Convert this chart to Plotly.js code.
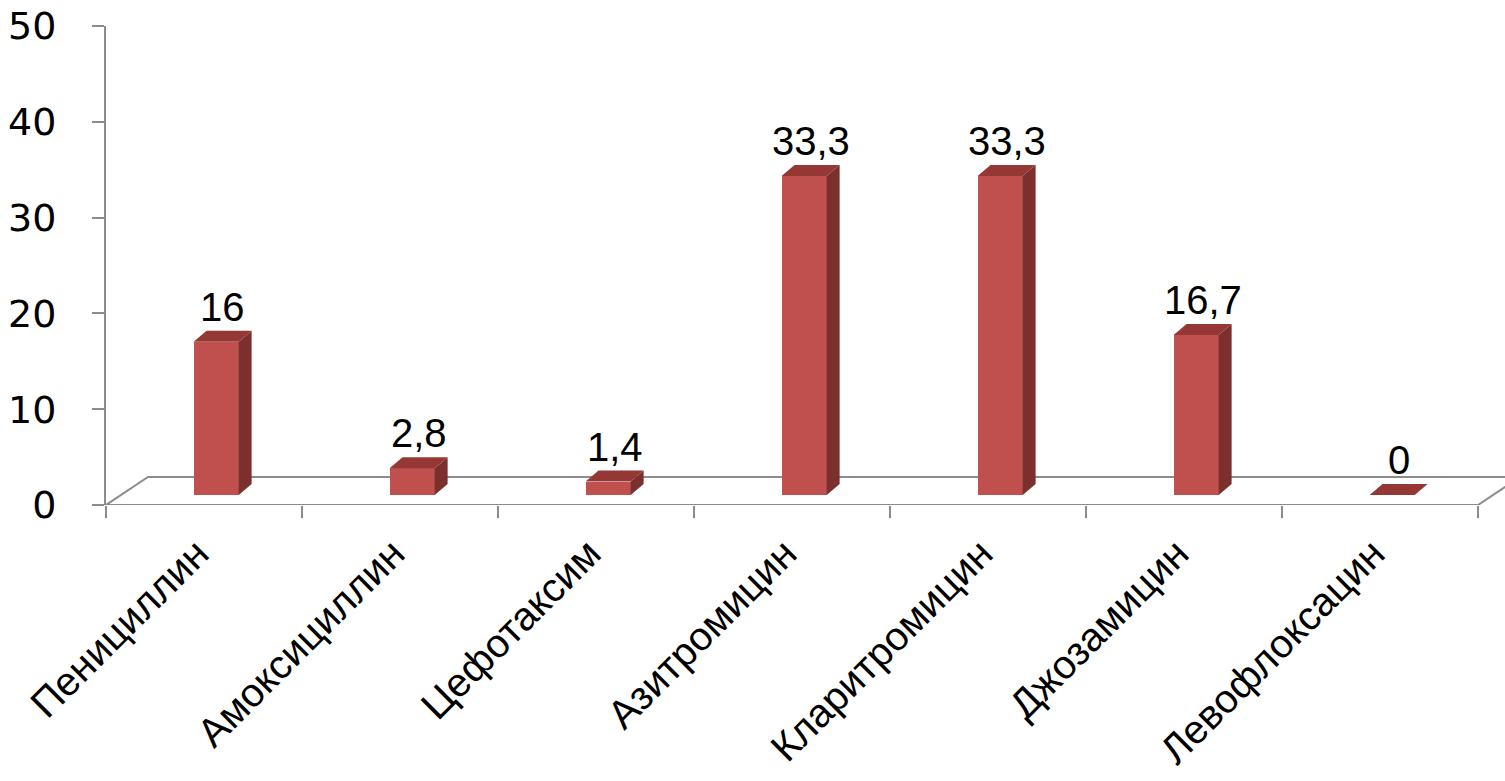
<!DOCTYPE html>
<html>
<head>
<meta charset="utf-8">
<script src="https://cdn.plot.ly/plotly-3.0.1.min.js"></script>
<style>
  html, body { margin: 0; padding: 0; background: #ffffff; }
  #chart { width: 1505px; height: 781px; }
</style>
</head>
<body>
<div id="chart"></div>
<script>
// Доля резистентных штаммов к антибиотикам, %
const categories = ['Пенициллин', 'Амоксициллин', 'Цефотаксим', 'Азитромицин',
                    'Кларитромицин', 'Джозамицин', 'Левофлоксацин'];
const values = [16, 2.8, 1.4, 33.3, 33.3, 16.7, 0];
const yTicks = [0, 10, 20, 30, 40, 50];

// Pseudo-3D geometry (axis units)
const floorDX = 0.214, floorDY = 2.92;   // depth of the floor plate
const planeDX = 0.062, planeDY = 1.04;   // offset of the bar front plane
const barW = 0.23;                       // bar width
const barDX = 0.066, barDY = 1.15;       // bar depth

const frontColor = '#C0504D', topColor = '#953735', sideColor = '#7B302E';
const gridGray = '#8C8C8C';

const centers = categories.map((_, i) => i + 0.5 + planeDX);

const bars = {
  type: 'bar',
  x: centers,
  y: values,
  base: values.map(() => planeDY),
  width: barW,
  marker: { color: frontColor, line: { width: 0 } },
  hoverinfo: 'skip',
  showlegend: false
};

const shapes = [];
// floor plate
const n = categories.length;
shapes.push({
  type: 'path', xref: 'x', yref: 'y', layer: 'below',
  path: `M 0 0 L ${floorDX} ${floorDY} L ${n + floorDX} ${floorDY} L ${n} 0 Z`,
  fillcolor: '#ffffff', line: { color: gridGray, width: 2 }
});

values.forEach((v, i) => {
  const xl = centers[i] - barW / 2, xr = centers[i] + barW / 2;
  const yb = planeDY, yt = planeDY + v;
  // side face
  if (v > 0) {
    shapes.push({
      type: 'path', xref: 'x', yref: 'y', layer: 'above',
      path: `M ${xr} ${yb} L ${xr} ${yt} L ${xr + barDX} ${yt + barDY} L ${xr + barDX} ${yb + barDY} Z`,
      fillcolor: sideColor, line: { width: 0 }
    });
  }
  // top face
  shapes.push({
    type: 'path', xref: 'x', yref: 'y', layer: 'above',
    path: `M ${xl} ${yt} L ${xr} ${yt} L ${xr + barDX} ${yt + barDY} L ${xl + barDX} ${yt + barDY} Z`,
    fillcolor: topColor, line: { width: 0 }
  });
});

const annotations = values.map((v, i) => ({
  x: centers[i] + barDX / 2,
  y: planeDY + v + barDY,
  xref: 'x', yref: 'y',
  text: String(v).replace('.', ','),
  showarrow: false,
  yanchor: 'bottom',
  yshift: 0,
  font: { family: 'Liberation Sans, Arial, sans-serif', size: 40, color: '#000000' }
}));

const boundaries = [];
for (let i = 0; i <= n; i++) boundaries.push(i);

const layout = {
  width: 1505,
  height: 781,
  margin: { l: 106, r: 0, t: 26, b: 276 },
  paper_bgcolor: '#ffffff',
  plot_bgcolor: 'rgba(0,0,0,0)',
  showlegend: false,
  xaxis: {
    range: [0, n + 27 / 196],
    tickmode: 'array',
    tickvals: categories.map((_, i) => i + 0.5),
    ticktext: categories,
    ticks: '',
    tickangle: -45,
    ticklabelstandoff: 16,
    ticklabelshift: -7,
    tickfont: { family: 'Liberation Sans, Arial, sans-serif', size: 40, color: '#000000' },
    showline: false,
    showgrid: false,
    zeroline: false,
    minor: {
      tickmode: 'array',
      tickvals: boundaries,
      ticks: 'outside',
      ticklen: 12,
      tickwidth: 2,
      tickcolor: gridGray,
      showgrid: false
    },
    fixedrange: true
  },
  yaxis: {
    range: [0, 50],
    tickmode: 'array',
    tickvals: yTicks,
    ticktext: yTicks.map(String),
    ticks: 'outside',
    ticklen: 12,
    tickwidth: 2,
    tickcolor: gridGray,
    ticklabelstandoff: 28,
    showline: true,
    linecolor: gridGray,
    linewidth: 2,
    showgrid: false,
    zeroline: false,
    tickfont: { family: 'DejaVu Sans, Verdana, sans-serif', size: 38, color: '#000000' },
    fixedrange: true
  },
  bargap: 0,
  shapes: shapes,
  annotations: annotations
};

Plotly.newPlot('chart', [bars], layout, { displayModeBar: false, staticPlot: true });
</script>
</body>
</html>
